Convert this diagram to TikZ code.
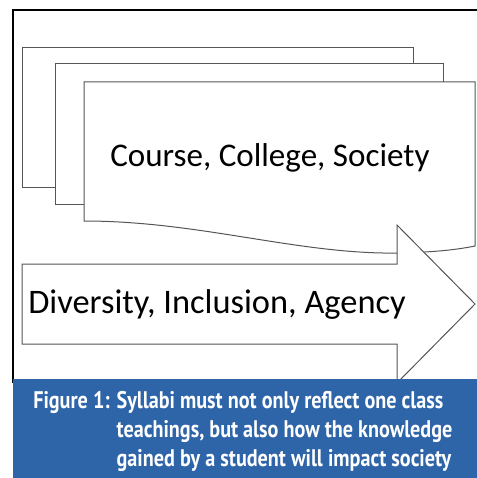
\documentclass[tikz,border=0pt]{standalone}
\usepackage{fontspec}
\setmainfont{Carlito}
\newfontfamily\captionfont[FakeStretch=0.84]{PT Sans}
\definecolor{docline}{RGB}{85,85,85}
\definecolor{capblue}{RGB}{46,100,168}
\tikzset{
  docshape/.style={draw=docline, fill=white, line width=0.75pt},
  bodytext/.style={inner sep=0pt, anchor=base west},
}
\begin{document}
\begin{tikzpicture}[x=0.75pt,y=0.75pt,yscale=-1,xscale=1]
\useasboundingbox (0,0) rectangle (477,478);

%Shape: Rectangle [id:back document]
\draw [docshape] (22,48) -- (413,48) -- (413,187) -- (22,187) -- cycle ;
%Shape: Rectangle [id:middle document]
\draw [docshape] (55,64) -- (443,64) -- (443,204) -- (55,204) -- cycle ;
%Shape: Document [id:front document]
\draw [docshape] (84,82) -- (475,82) -- (475,246) .. controls (460,249) and (440,252) .. (400,253) .. controls (300,255) and (200,221) .. (84,221) -- cycle ;

%Shape: Right Arrow [id:arrow]
\draw [docshape] (22,264) -- (397,264) -- (397,225) -- (475,304) -- (397,383) -- (397,344) -- (22,344) -- cycle ;

%Straight Lines [id:frame]
\draw [color=black, line width=1.5pt] (13,383) -- (13,10) -- (477,10) ;

%Shape: Rectangle [id:caption band]
\fill [capblue] (13,379) rectangle (477,478) ;

% Text Node
\node (levels) [bodytext, font=\fontsize{24.8}{28}\selectfont] at (110,166) {Course, College, Society};
% Text Node
\node (values) [bodytext, font=\fontsize{25.8}{29}\selectfont] at (28,313) {Diversity, Inclusion, Agency};
% Text Node
\node (caption) [bodytext, text=white, font=\captionfont\bfseries\fontsize{18}{22.1}\selectfont] at (33,408)
  {\begin{tabular}[t]{@{}l@{ }l@{}}Figure 1: & Syllabi must not only reflect one class\\ & teachings, but also how the knowledge\\ & gained by a student will impact society\end{tabular}};

\end{tikzpicture}
\end{document}
